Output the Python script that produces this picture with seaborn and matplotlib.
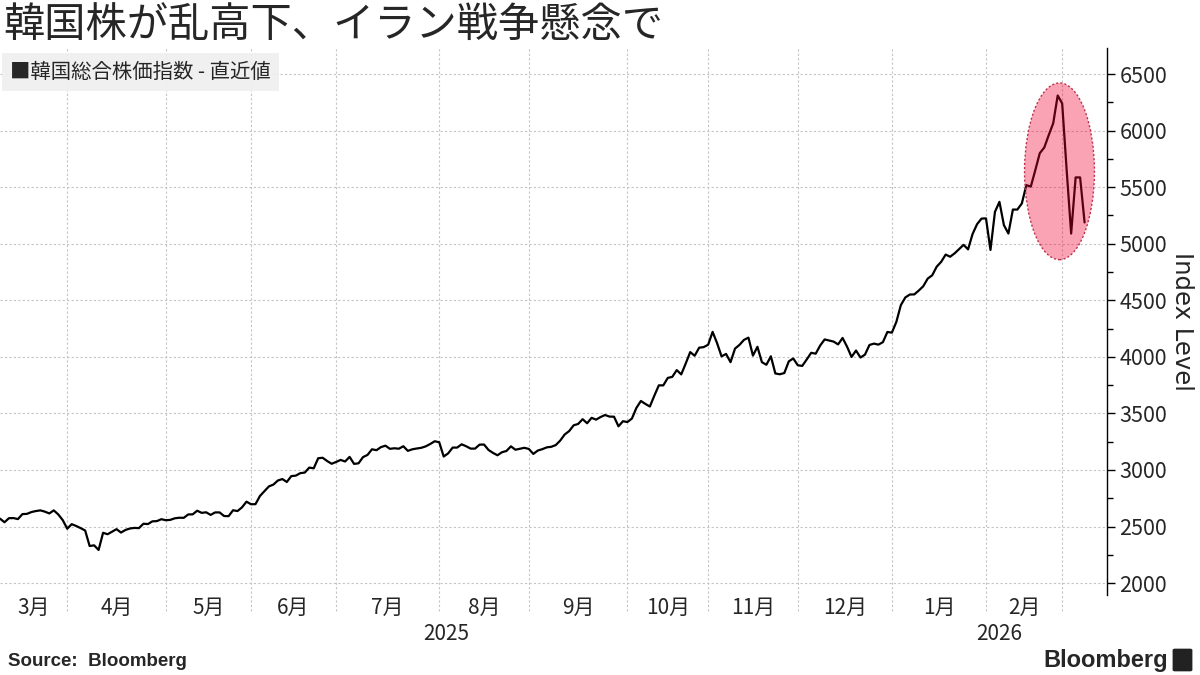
import numpy as np
import pandas as pd
import seaborn as sns
import matplotlib.pyplot as plt
from matplotlib.patches import Ellipse, FancyBboxPatch
from matplotlib.ticker import MultipleLocator

# 韓国総合株価指数 (KOSPI) 終値 - 月ごと
mar25 = [2570, 2538, 2574, 2575, 2566, 2610, 2612, 2628, 2637, 2643, 2632, 2616, 2643, 2607, 2557, 2481]
apr25 = [2521, 2505, 2486, 2465, 2328, 2334, 2293, 2445, 2432, 2455, 2477, 2447, 2470, 2483, 2488, 2486,
         2525, 2522, 2546, 2548, 2565, 2556]
may25 = [2559, 2573, 2578, 2577, 2607, 2608, 2640, 2621, 2626, 2603, 2625, 2625, 2593, 2592, 2644, 2637,
         2670, 2720, 2697]
jun25 = [2698, 2770, 2812, 2855, 2871, 2907, 2920, 2894, 2946, 2950, 2972, 2977, 3021, 3015, 3104, 3108,
         3079, 3055, 3071]
jul25 = [3089, 3075, 3116, 3054, 3059, 3114, 3133, 3183, 3175, 3202, 3215, 3187, 3192, 3188, 3210, 3169,
         3183, 3190, 3196, 3209, 3230, 3254, 3245]
aug25 = [3119, 3147, 3198, 3198, 3227, 3210, 3189, 3189, 3224, 3225, 3177, 3151, 3130, 3157, 3168, 3209,
         3179, 3187, 3196, 3186]
sep25 = [3142, 3172, 3184, 3200, 3205, 3220, 3260, 3314, 3344, 3395, 3407, 3449, 3413, 3461, 3445, 3468,
         3486, 3472, 3471, 3386, 3431, 3424]
oct25 = [3455, 3549, 3610, 3584, 3561, 3657, 3748, 3748, 3814, 3823, 3883, 3845, 3941, 4042, 4010, 4081,
         4086, 4107]
nov25 = [4221, 4121, 4004, 4026, 3953, 4073, 4106, 4150, 4170, 4011, 4089, 3953, 3930, 4005, 3853, 3846,
         3857, 3960, 3986, 3926]
dec25 = [3920, 3977, 4036, 4028, 4100, 4154, 4144, 4135, 4110, 4167, 4090, 3999, 4056, 3994, 4020, 4105,
         4117, 4108, 4130, 4220, 4214]
jan26 = [4309, 4457, 4525, 4551, 4552, 4586, 4624, 4692, 4721, 4797, 4840, 4904, 4885, 4915, 4952, 4990,
         4950, 5085, 5172, 5222, 5224]
feb26 = [4945, 5282, 5370, 5164, 5090, 5302, 5302, 5356, 5518, 5505, 5650, 5800, 5850, 5960, 6065, 6310,
         6240]
mar26 = [5650, 5090, 5586, 5586, 5188]

# 取引所の休場日
krx_holidays = ["2025-05-01", "2025-05-05", "2025-05-06", "2025-06-03", "2025-06-06", "2025-08-15",
                "2025-10-03", "2025-10-06", "2025-10-07", "2025-10-08", "2025-10-09", "2025-12-25",
                "2025-12-31", "2026-01-01", "2026-02-16", "2026-02-17", "2026-02-18", "2026-03-02"]

y_ticks = [2000, 2500, 3000, 3500, 4000, 4500, 5000, 5500, 6000, 6500]

title = "韓国株が乱高下、イラン戦争懸念で"
legend_label = "■韓国総合株価指数 - 直近値"

closes = mar25 + apr25 + may25 + jun25 + jul25 + aug25 + sep25 + oct25 + nov25 + dec25 + jan26 + feb26 + mar26
dates = pd.bdate_range("2025-03-10", "2026-03-09", freq="C", holidays=krx_holidays)
df = pd.DataFrame({"date": dates, "close": closes})
df["i"] = np.arange(len(df))

sns.set_theme(style="white")
plt.rcParams["font.family"] = ["Noto Sans CJK JP", "DejaVu Sans"]

fig = plt.figure(figsize=(12, 6.75), dpi=100)
ax = fig.add_axes([0, 80 / 675, 1107 / 1200, 547 / 675])

grid_kw = dict(color="#c4c4c4", linestyle=(0, (2, 2)), linewidth=0.8)

# 月の区切り (各月の最終取引日)
months = df.groupby(df["date"].dt.to_period("M"))["i"].max()
x_right = len(df) - 1 + 5
bounds = list(months.values[:-1])
for b in bounds:
    ax.axvline(b, ymin=-0.03, ymax=1, clip_on=False, zorder=0, **grid_kw)

sns.lineplot(data=df, x="i", y="close", color="black", linewidth=1.6, ax=ax, zorder=3)

# 直近の乱高下を囲む楕円
last = df.tail(13)
lo, hi = last["close"].min(), last["close"].max()
ell = Ellipse((last["i"].mean() + 0.4, (lo + hi) / 2 - 60),
              width=(last["i"].max() - last["i"].min()) * 1.3,
              height=(hi - lo) * 1.28,
              facecolor=(0.94, 0.0, 0.2, 0.36), edgecolor="#c0304a",
              linestyle=(0, (1.5, 1.5)), linewidth=1, zorder=4)
ax.add_patch(ell)

ax.set_xlim(0, x_right)
ax.set_ylim(1895, 6730)
ax.set_yticks(y_ticks)
ax.yaxis.set_minor_locator(MultipleLocator(250))
ax.yaxis.tick_right()
ax.yaxis.set_label_position("right")
ax.tick_params(axis="y", which="major", direction="out", length=6, width=1, color="black",
               labelsize=15.5, pad=3, right=True, left=False)
ax.tick_params(axis="y", which="minor", direction="out", length=4, width=1, color="black",
               right=True, left=False)
ax.set_xticks([])
ax.set_xlabel("")
ax.set_ylabel("Index Level", rotation=270, fontsize=17.5, labelpad=19, family="DejaVu Sans")
ax.yaxis.grid(True, **grid_kw)
ax.set_axisbelow(True)
for s in ["left", "top", "bottom"]:
    ax.spines[s].set_visible(False)
ax.spines["right"].set_color("black")
ax.spines["right"].set_linewidth(1)

# 月ラベルと年ラベル
trans = ax.get_xaxis_transform()
edges = [0] + bounds
for k, period in enumerate(months.index[:-1]):
    ax.text((edges[k] + edges[k + 1]) / 2, -0.024, f"{period.month}月", transform=trans,
            ha="center", va="center", fontsize=15)
dec_end = months[pd.Period("2025-12")]
ax.text(dec_end / 2, -0.071, "2025", transform=trans, ha="center", va="center", fontsize=15)
ax.text((dec_end + x_right) / 2, -0.071, "2026", transform=trans, ha="center", va="center", fontsize=15)

fig.text(3 / 1200, 1 - 25 / 675, title, fontsize=29.7, va="center", ha="left")
fig.text(10 / 1200, 1 - 72 / 675, legend_label, fontsize=14.7, va="center", ha="left",
         bbox=dict(boxstyle="square,pad=0.4", facecolor="#efefef", edgecolor="none", alpha=0.9))
fig.text(8 / 1200, 1 - 662 / 675, "Source:  Bloomberg", fontsize=13.5, fontweight="bold",
         family="Liberation Sans", va="center", ha="left")
fig.text(1168 / 1200, 1 - 660 / 675, "Bloomberg", fontsize=17, fontweight="bold",
         family="Liberation Sans", va="center", ha="right")
fig.patches.append(FancyBboxPatch((1175 / 1200, 1 - 670 / 675), 15 / 1200, 20 / 675,
                                  boxstyle="round,pad=0.002", facecolor="#222222", edgecolor="none",
                                  transform=fig.transFigure, figure=fig))

fig.savefig("out.png", dpi=100)
